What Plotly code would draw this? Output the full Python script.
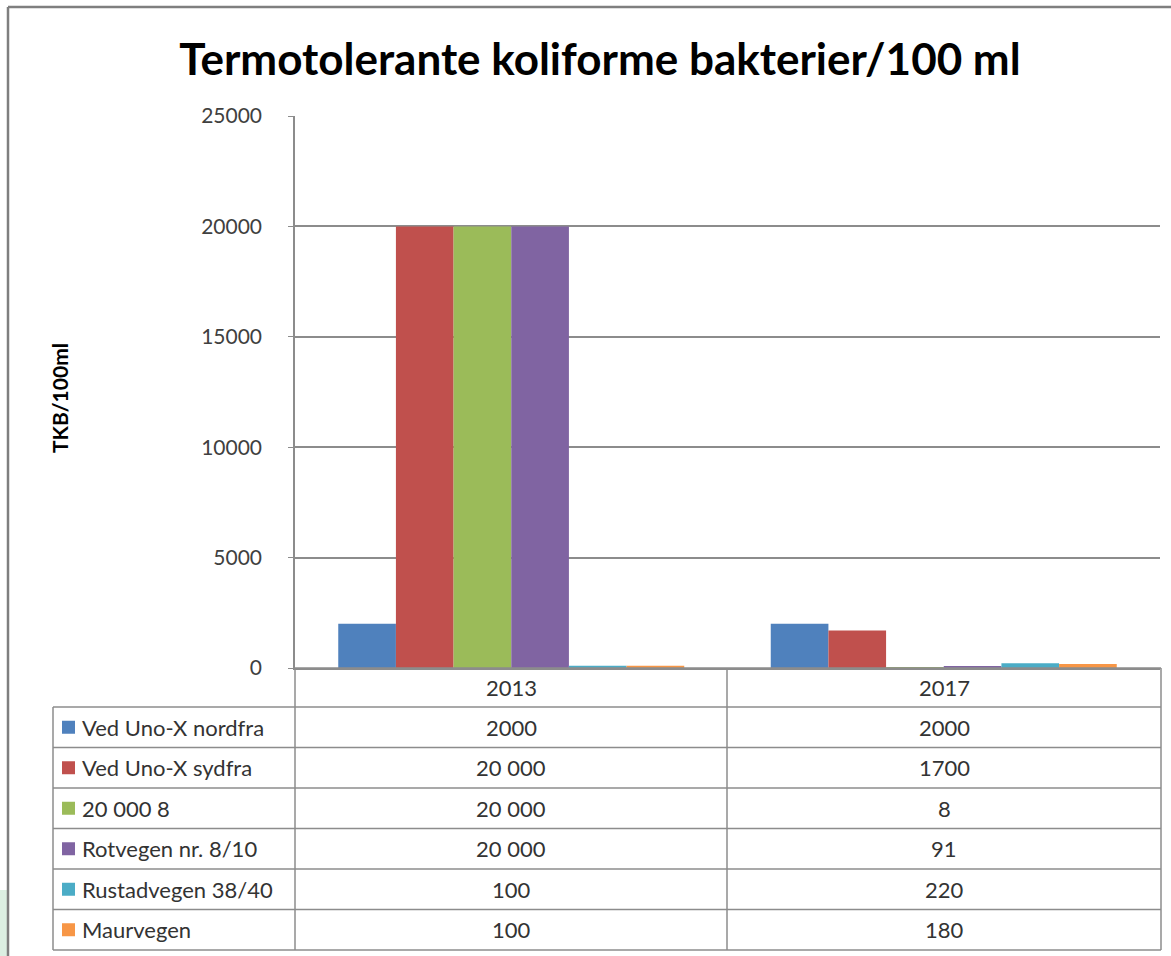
import plotly.graph_objects as go

title = "Termotolerante koliforme bakterier/100 ml"
y_title = "TKB/100ml"
categories = ["2013", "2017"]
series_names = ["Ved Uno-X nordfra", "Ved Uno-X sydfra", "20 000 8",
                "Rotvegen nr. 8/10", "Rustadvegen 38/40", "Maurvegen"]
values_2013 = [2000, 20000, 20000, 20000, 100, 100]
values_2017 = [2000, 1700, 8, 91, 220, 180]
table_2013 = ["2000", "20 000", "20 000", "20 000", "100", "100"]
table_2017 = ["2000", "1700", "8", "91", "220", "180"]
colors = ["#4F81BD", "#C0504D", "#9BBB59", "#8064A2", "#4BACC6", "#F79646"]
y_ticks = [0, 5000, 10000, 15000, 20000, 25000]
y_tick_labels = ["0", "5000", "10000", "15000", "20000", "25000"]

W, H = 1171, 956
L, R, T, B = 295, 1160, 116, 668  # plot area in pixels


def px(x):
    return (x - L) / (R - L)


def py(y):
    return (B - y) / (B - T)


FONT = "Lato, Calibri, 'Open Sans', sans-serif"
GRID = "#8c8c8c"
TXT = "#333333"

fig = go.Figure()
for i, name in enumerate(series_names):
    fig.add_trace(go.Bar(
        x=categories, y=[values_2013[i], values_2017[i]], name=name,
        marker=dict(color=colors[i], line=dict(width=0)),
        showlegend=False,
    ))

fig.update_layout(
    width=W, height=H,
    margin=dict(l=L, r=W - R, t=T, b=H - B, pad=0),
    paper_bgcolor="white", plot_bgcolor="white",
    barmode="group", bargap=0.2, bargroupgap=0,
    font=dict(family=FONT, color=TXT),
    title=dict(text=title, x=600 / W, xanchor="center", y=1 - 60 / H, yanchor="middle",
               font=dict(family=FONT, size=44, color="#000000", weight="bold")),
    xaxis=dict(type="category", showticklabels=False, showgrid=False,
               showline=True, linecolor=GRID, linewidth=1.5, ticks="", zeroline=False,
               range=[-0.5, 1.5]),
    yaxis=dict(range=[0, 25000], tickvals=y_ticks, ticktext=y_tick_labels,
               ticks="outside", ticklen=5,
               tickcolor=GRID, showgrid=True, gridcolor=GRID, gridwidth=1.5,
               showline=True, linecolor=GRID, linewidth=1.5, zeroline=False,
               tickfont=dict(family=FONT, size=21, color="#404040"),
               ticklabelstandoff=22),
)

shapes = []
annotations = []

# y-axis title
annotations.append(dict(text=y_title, x=px(59), y=py(398), xref="paper", yref="paper",
                        xanchor="center", yanchor="middle",
                        textangle=-90, showarrow=False,
                        font=dict(family=FONT, size=21, color="#000000", weight="bold")))

# data table geometry
col_left = 53
col_split = [L, 727, 1161]
header_bottom = 707
row_h = (950 - header_bottom) / len(series_names)
row_lines = [header_bottom + k * row_h for k in range(len(series_names) + 1)]
line = dict(color=GRID, width=1.5)

for xv in col_split:
    shapes.append(dict(type="line", xref="paper", yref="paper", x0=px(xv), x1=px(xv),
                       y0=py(B), y1=py(950), line=line))
shapes.append(dict(type="line", xref="paper", yref="paper", x0=px(col_left), x1=px(col_left),
                   y0=py(header_bottom), y1=py(950), line=line))
shapes.append(dict(type="line", xref="paper", yref="paper", x0=px(L), x1=px(1161),
                   y0=py(B), y1=py(B), line=line))
for yv in row_lines:
    shapes.append(dict(type="line", xref="paper", yref="paper", x0=px(col_left), x1=px(1161),
                       y0=py(yv), y1=py(yv), line=line))

TFONT = dict(family=FONT, size=22, color=TXT)

# header labels
for j, cat in enumerate(categories):
    cx = (col_split[j] + col_split[j + 1]) / 2
    annotations.append(dict(text=cat, x=px(cx), y=py((B + header_bottom) / 2),
                            xref="paper", yref="paper", xanchor="center", yanchor="middle",
                            showarrow=False, font=TFONT))

# rows
for i, name in enumerate(series_names):
    cy = (row_lines[i] + row_lines[i + 1]) / 2
    shapes.append(dict(type="rect", xref="paper", yref="paper",
                       x0=px(62), x1=px(75), y0=py(cy - 6.5), y1=py(cy + 6.5),
                       fillcolor=colors[i], line=dict(width=0)))
    annotations.append(dict(text=name, x=px(80), y=py(cy), xref="paper", yref="paper",
                            xanchor="left", yanchor="middle", showarrow=False, font=TFONT))
    for j, vals in enumerate([table_2013, table_2017]):
        cx = (col_split[j] + col_split[j + 1]) / 2
        annotations.append(dict(text=vals[i], x=px(cx), y=py(cy), xref="paper", yref="paper",
                                xanchor="center", yanchor="middle",
                                showarrow=False, font=TFONT))

# outer frame and decorative green corner
shapes.append(dict(type="rect", xref="paper", yref="paper", x0=px(0), x1=px(7),
                   y0=py(890), y1=py(H), fillcolor="#dcefe2", line=dict(width=0)))
shapes.append(dict(type="line", xref="paper", yref="paper", x0=px(8), x1=px(W),
                   y0=py(7), y1=py(7), line=dict(color="#7f7f7f", width=2.5)))
shapes.append(dict(type="line", xref="paper", yref="paper", x0=px(8), x1=px(8),
                   y0=py(7), y1=py(H), line=dict(color="#7f7f7f", width=2.5)))

fig.update_layout(shapes=shapes, annotations=annotations)
fig.write_html("out.html", config={"displayModeBar": False},
               post_script="document.body.style.margin='0';document.body.style.overflow='hidden';")
